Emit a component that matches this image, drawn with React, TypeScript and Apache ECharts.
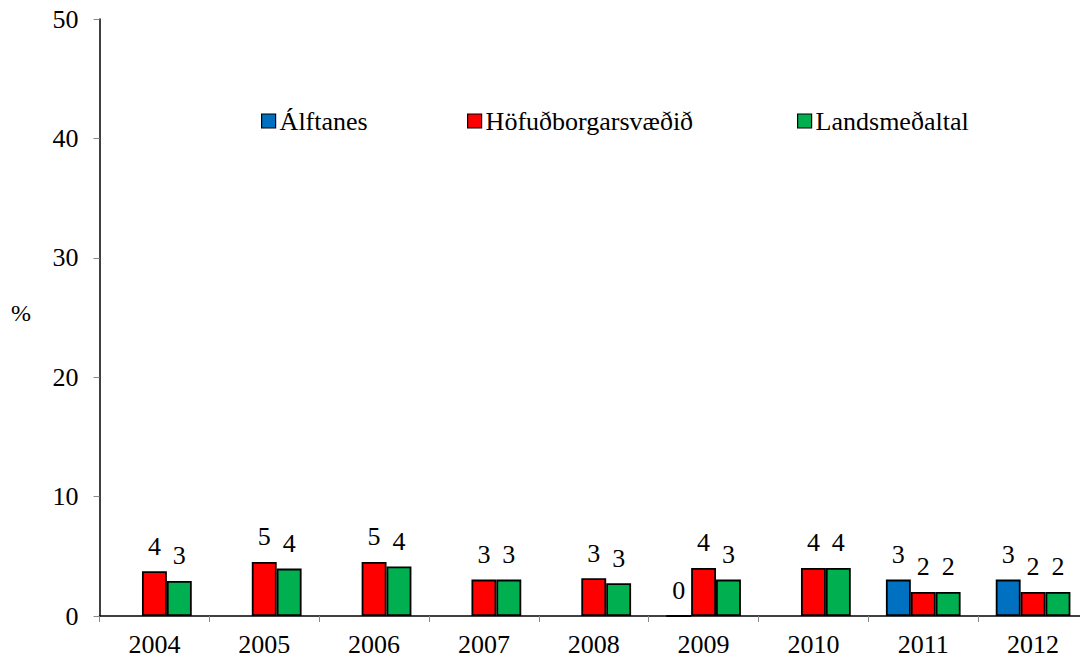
import React, { useEffect, useRef } from "react";
import * as echarts from "echarts";

const categories = ["2004", "2005", "2006", "2007", "2008", "2009", "2010", "2011", "2012"];
const alftanes: (number | null)[] = [null, null, null, null, null, 0, null, 3.05, 3.05];
const hofud: number[] = [3.75, 4.53, 4.53, 3.05, 3.16, 4.03, 4.03, 2.02, 2.02];
const lands: number[] = [2.94, 3.97, 4.14, 3.05, 2.74, 3.05, 4.03, 2.02, 2.02];
const yTicks = [0, 10, 20, 30, 40, 50];

const FONT = "Liberation Serif";

export default function App() {
  const ref = useRef<HTMLDivElement>(null);
  useEffect(() => {
    if (!ref.current) return;
    const chart = echarts.init(ref.current, undefined, { renderer: "svg" });
    const label = {
      show: true,
      position: "top" as const,
      distance: 12,
      color: "#000",
      fontFamily: FONT,
      fontSize: 26,
      formatter: (p: any) => (p.value === null || p.value === undefined ? "" : String(Math.round(p.value))),
    };
    const mkSeries = (name: string, data: (number | null)[], color: string) => ({
      name,
      type: "bar",
      data,
      barGap: "0%",
      barCategoryGap: "32%",
      itemStyle: { color, borderColor: "#000", borderWidth: 1.8 },
      label,
    });
    const legendBase = {
      top: 103,
      itemWidth: 14,
      itemHeight: 14,
      icon: "rect",
      textStyle: { fontFamily: FONT, fontSize: 26, color: "#000", padding: [0, 0, 0, -1] },
      itemStyle: { borderColor: "#000", borderWidth: 1.2 },
    };
    chart.setOption({
      animation: false,
      backgroundColor: "#fff",
      textStyle: { fontFamily: FONT },
      grid: { left: 99.5, right: 0, top: 19, bottom: 45 },
      legend: [
        { ...legendBase, left: 256, data: ["Álftanes"] },
        { ...legendBase, left: 462, data: ["Höfuðborgarsvæðið"] },
        { ...legendBase, left: 792, data: ["Landsmeðaltal"] },
      ],
      xAxis: {
        type: "category",
        data: categories,
        axisLine: { lineStyle: { color: "#000", width: 1.5 } },
        axisTick: { show: true, length: 6, lineStyle: { color: "#888" } },
        axisLabel: { color: "#000", fontFamily: FONT, fontSize: 26, margin: 15 },
        splitLine: { show: false },
      },
      yAxis: {
        type: "value",
        min: yTicks[0],
        max: yTicks[yTicks.length - 1],
        interval: 10,
        axisLine: { show: true, lineStyle: { color: "#000", width: 1.5 } },
        axisTick: { show: true, length: 6, lineStyle: { color: "#888" } },
        axisLabel: { color: "#000", fontFamily: FONT, fontSize: 26, margin: 21 },
        splitLine: { show: false },
      },
      graphic: [
        {
          type: "text",
          left: 11,
          top: 301,
          style: { text: "%", fontFamily: FONT, fontSize: 24, fill: "#000" },
        },
      ],
      series: [
        mkSeries("Álftanes", alftanes, "#0070C0"),
        mkSeries("Höfuðborgarsvæðið", hofud, "#FF0000"),
        mkSeries("Landsmeðaltal", lands, "#00B050"),
      ],
    });
    return () => chart.dispose();
  }, []);
  return <div ref={ref} style={{ width: 1088, height: 661, margin: -8 }} />;
}
